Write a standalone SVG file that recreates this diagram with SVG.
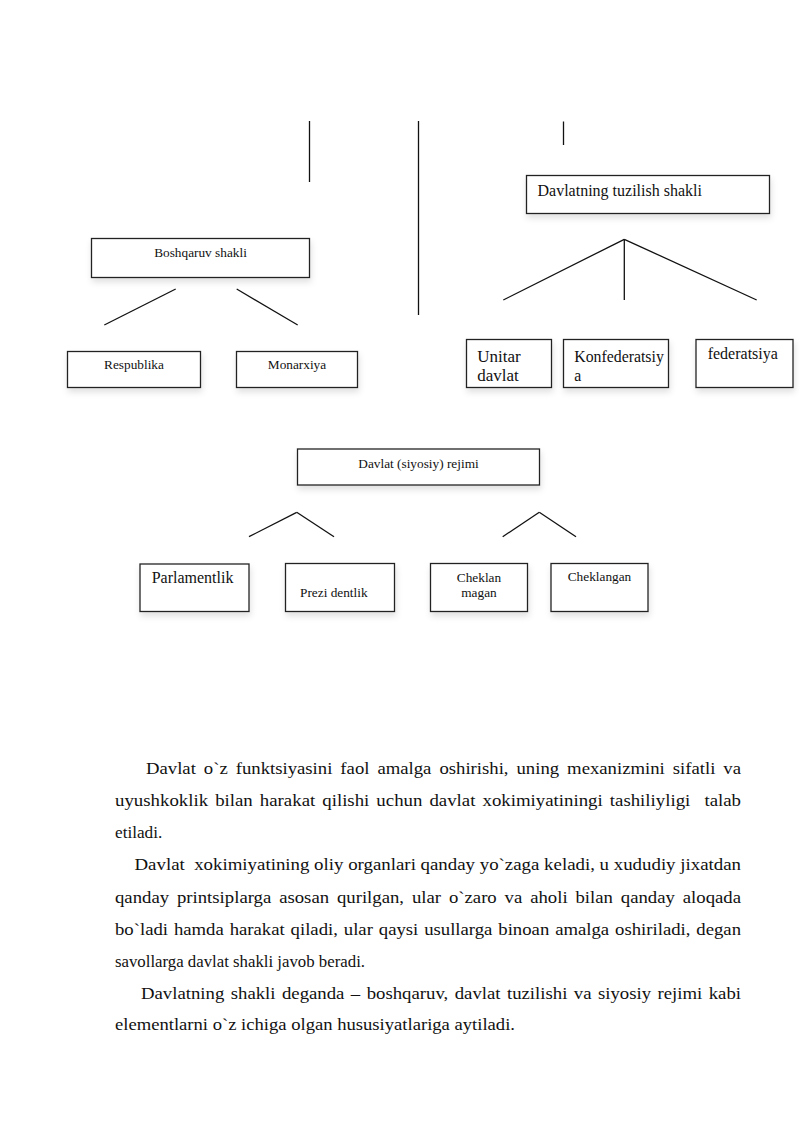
<svg xmlns="http://www.w3.org/2000/svg" width="800" height="1131" viewBox="0 0 800 1131">
<style>
.box{fill:#fff;stroke:#222;stroke-width:1.3;filter:url(#sh)}
.ln{stroke:#111;stroke-width:1.3;fill:none}
.t{font-family:"Liberation Serif","Times New Roman",serif;fill:#111}
.s{font-size:13.3px}
.m{font-size:16px}
.l{font-size:17px}
.k{font-size:15.8px}
.p{font-size:17px;white-space:pre}
.c{text-anchor:middle}
</style>
<defs>
<filter id="sh" x="-20%" y="-30%" width="140%" height="170%">
<feDropShadow dx="1" dy="4" stdDeviation="3" flood-color="#000" flood-opacity="0.12"/>
</filter>
</defs>
<rect width="800" height="1131" fill="#fff"/>
<g id="connectors">
<line class="ln" x1="309.5" y1="121" x2="309.5" y2="182"/>
<line class="ln" x1="418.5" y1="121" x2="418.5" y2="315"/>
<line class="ln" x1="563.5" y1="121.5" x2="563.5" y2="145"/>
<line class="ln" x1="175.7" y1="289" x2="104.3" y2="325"/>
<line class="ln" x1="236.7" y1="289" x2="297.7" y2="325"/>
<line class="ln" x1="624.3" y1="239.3" x2="503.3" y2="300"/>
<line class="ln" x1="624.3" y1="239.3" x2="624.3" y2="300"/>
<line class="ln" x1="624.3" y1="239.3" x2="756.7" y2="300"/>
<line class="ln" x1="296.7" y1="512.3" x2="249" y2="536.7"/>
<line class="ln" x1="296.7" y1="512.3" x2="334" y2="536.7"/>
<line class="ln" x1="539.3" y1="512.3" x2="502.7" y2="536.7"/>
<line class="ln" x1="539.3" y1="512.3" x2="576" y2="536.7"/>
</g>
<g id="boshqaruv">
<rect class="box" x="91.5" y="238.5" width="218" height="39"/>
<text class="t s c" x="200.5" y="256.5">Boshqaruv shakli</text>
</g>
<g id="respublika">
<rect class="box" x="67.5" y="351.5" width="133" height="36"/>
<text class="t s c" x="134" y="369">Respublika</text>
</g>
<g id="monarxiya">
<rect class="box" x="236.5" y="351.5" width="121" height="36"/>
<text class="t s c" x="297" y="369">Monarxiya</text>
</g>
<g id="davlatning">
<rect class="box" x="526.5" y="175.5" width="243" height="38"/>
<text class="t m" x="537.5" y="196">Davlatning tuzilish shakli</text>
</g>
<g id="unitar">
<rect class="box" x="466.5" y="339.5" width="85" height="48"/>
<text class="t l" x="477.3" y="361.5">Unitar</text>
<text class="t l" x="477.3" y="380.7">davlat</text>
</g>
<g id="konfederatsiya">
<rect class="box" x="563.5" y="339.5" width="105" height="48"/>
<text class="t k" x="574.3" y="362">Konfederatsiy</text>
<text class="t k" x="574.3" y="380.7">a</text>
</g>
<g id="federatsiya">
<rect class="box" x="696" y="339.5" width="97" height="48"/>
<text class="t m" x="707.7" y="359.3">federatsiya</text>
</g>
<g id="rejim">
<rect class="box" x="297.5" y="449" width="242" height="36"/>
<text class="t s c" x="418.5" y="467.5">Davlat (siyosiy) rejimi</text>
</g>
<g id="parlamentlik">
<rect class="box" x="140" y="564" width="109" height="47.5"/>
<text class="t m" x="151.7" y="582.5">Parlamentlik</text>
</g>
<g id="prezidentlik">
<rect class="box" x="285.5" y="563.5" width="109" height="48"/>
<text class="t s" x="300" y="596.5">Prezi dentlik</text>
</g>
<g id="cheklanmagan">
<rect class="box" x="430.5" y="563.5" width="97" height="48"/>
<text class="t s c" x="479" y="581.5">Cheklan</text>
<text class="t s c" x="479" y="596.5">magan</text>
</g>
<g id="cheklangan">
<rect class="box" x="551" y="563.5" width="97" height="48"/>
<text class="t s c" x="599.5" y="580.7">Cheklangan</text>
</g>
<g id="paragraph" class="t p">
<text xml:space="preserve" x="146" y="774" word-spacing="3" textLength="595" lengthAdjust="spacingAndGlyphs">Davlat o`z funktsiyasini faol amalga oshirishi, uning mexanizmini sifatli va</text>
<text xml:space="preserve" x="115" y="806" word-spacing="2.1" textLength="626" lengthAdjust="spacingAndGlyphs">uyushkoklik bilan harakat qilishi uchun davlat xokimiyatiningi tashiliyligi  talab</text>
<text xml:space="preserve" x="115" y="838" textLength="47.3" lengthAdjust="spacingAndGlyphs">etiladi.</text>
<text xml:space="preserve" x="134.5" y="870" textLength="606.5" lengthAdjust="spacingAndGlyphs">Davlat  xokimiyatining oliy organlari qanday yo`zaga keladi, u xududiy jixatdan</text>
<text xml:space="preserve" x="115" y="902.5" word-spacing="2.9" textLength="626" lengthAdjust="spacingAndGlyphs">qanday printsiplarga asosan qurilgan, ular o`zaro va aholi bilan qanday aloqada</text>
<text xml:space="preserve" x="115" y="934.5" word-spacing="1.1" textLength="626" lengthAdjust="spacingAndGlyphs">bo`ladi hamda harakat qiladi, ular qaysi usullarga binoan amalga oshiriladi, degan</text>
<text xml:space="preserve" x="115" y="966.5" textLength="250" lengthAdjust="spacingAndGlyphs">savollarga davlat shakli javob beradi.</text>
<text xml:space="preserve" x="141" y="998.5" word-spacing="1.6" textLength="600" lengthAdjust="spacingAndGlyphs">Davlatning shakli deganda – boshqaruv, davlat tuzilishi va siyosiy rejimi kabi</text>
<text xml:space="preserve" x="115" y="1030" textLength="400" lengthAdjust="spacingAndGlyphs">elementlarni o`z ichiga olgan hususiyatlariga aytiladi.</text>
</g>
</svg>
